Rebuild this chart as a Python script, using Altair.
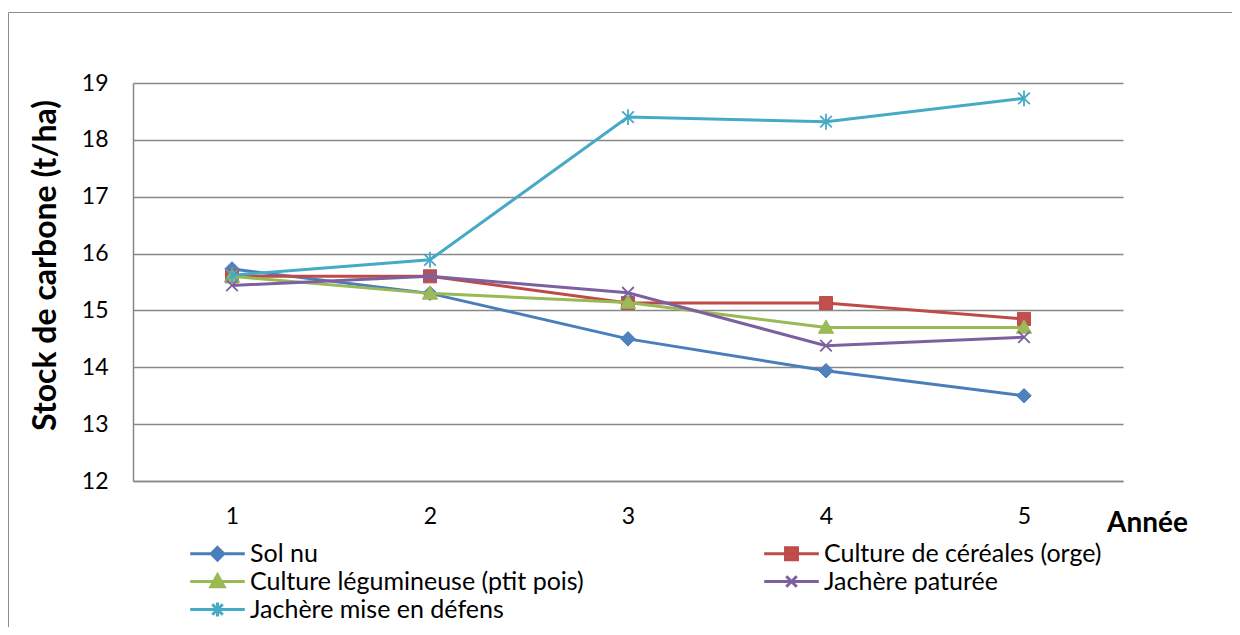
import altair as alt
import pandas as pd

# ---------------- data ----------------
years = [1, 2, 3, 4, 5]
series_names = [
    "Sol nu",
    "Culture de céréales (orge)",
    "Culture légumineuse (ptit pois)",
    "Jachère paturée",
    "Jachère mise en défens",
]
sol_nu = [15.73, 15.30, 14.50, 13.94, 13.50]
cereales = [15.60, 15.60, 15.13, 15.13, 14.85]
legumineuse = [15.60, 15.30, 15.14, 14.70, 14.70]
paturee = [15.44, 15.60, 15.31, 14.38, 14.53]
defens = [15.62, 15.89, 18.40, 18.32, 18.73]
y_ticks = [12, 13, 14, 15, 16, 17, 18, 19]
# legend fills column by column: this order gives the reference's rows
legend_order = [0, 2, 4, 1, 3]

# ---------------- styles ----------------
line_colors = ["#4A7EBB", "#BE4B48", "#98B954", "#7D60A0", "#46AAC5"]
marker_colors = ["#4F81BD", "#C0504D", "#9BBB59", "#8064A2", "#4BACC6"]
marker_paths = [
    "M0,-1L1,0L0,1L-1,0Z",
    "M-0.9,-0.9L0.9,-0.9L0.9,0.9L-0.9,0.9Z",
    "M0,-1.05L1.05,0.8L-1.05,0.8Z",
    "M-0.8,-0.8L0.8,0.8M-0.8,0.8L0.8,-0.8",
    "M-0.8,-0.8L0.8,0.8M-0.8,0.8L0.8,-0.8M0,-1.1L0,1.1",
]
marker_stroke = [1, 1, 1, 1.8, 1.8]
legend_line = "M-3.9,0L3.9,0"
legend_paths = [
    legend_line + "M0,-0.9L0.9,0L0,0.9L-0.9,0Z",
    legend_line + "M-0.85,-0.85L0.85,-0.85L0.85,0.85L-0.85,0.85Z",
    legend_line + "M0,-0.95L0.95,0.75L-0.95,0.75Z",
    legend_line + "M-0.75,-0.75L0.75,0.75M-0.75,0.75L0.75,-0.75",
    legend_line + "M-0.75,-0.75L0.75,0.75M-0.75,0.75L0.75,-0.75M0,-1L0,1",
]

FONT = "Lato"
GRID = "#888888"

rows = []
for name, vals in zip(series_names, [sol_nu, cereales, legumineuse, paturee, defens]):
    for yr, v in zip(years, vals):
        rows.append({"annee": yr, "stock": v, "serie": name})
df = pd.DataFrame(rows)

x_enc = alt.X(
    "annee:O",
    scale=alt.Scale(type="point", padding=0.5),
    axis=alt.Axis(
        title="Année",
        titleFont=FONT,
        titleFontSize=28,
        titleFontWeight="bold",
        titleColor="#000000",
        titleX=1014,
        titleY=50,
        titleAlign="center",
        titleBaseline="alphabetic",
        titleAngle=0,
        labelAngle=0,
        labelFont=FONT,
        labelFontSize=23,
        labelColor="#000000",
        labelPadding=24,
        ticks=False,
        tickSize=0,
        domainColor=GRID,
        domainWidth=1.5,
        grid=False,
    ),
)
y_enc = alt.Y(
    "stock:Q",
    scale=alt.Scale(domain=[12, 19], nice=False, zero=False),
    axis=alt.Axis(
        title="Stock de carbone (t/ha)",
        titleFont=FONT,
        titleFontSize=32,
        titleFontWeight="bold",
        titleColor="#000000",
        titleX=-78,
        titleY=182,
        titleAlign="center",
        titleBaseline="alphabetic",
        values=y_ticks,
        format="d",
        labelFont=FONT,
        labelFontSize=23,
        labelColor="#000000",
        labelPadding=25,
        ticks=False,
        tickSize=0,
        domainColor=GRID,
        domainWidth=1.5,
        grid=True,
        gridColor=GRID,
        gridWidth=1.5,
    ),
)

base = alt.Chart(df)
one = pd.DataFrame({"k": [0]})

frame_top = alt.Chart(one).mark_rule(stroke="#8C8C8C", strokeWidth=1).encode(
    x=alt.value(-124.5), x2=alt.value(1100), y=alt.value(-70.5)
)
frame_left = alt.Chart(one).mark_rule(stroke="#8C8C8C", strokeWidth=1).encode(
    x=alt.value(-124.5), y=alt.value(-70.5), y2=alt.value(545)
)

series_layers = []
for name, path, sw, fc, lc in zip(
    series_names, marker_paths, marker_stroke, marker_colors, line_colors
):
    sub = base.transform_filter(alt.datum.serie == name)
    series_layers.append(
        sub.mark_line(strokeWidth=3, stroke=lc).encode(x=x_enc, y=y_enc)
    )
    series_layers.append(
        sub.mark_point(
            shape=path, filled=True, size=210, strokeWidth=sw, opacity=1,
            fill=fc, stroke=lc,
        ).encode(x=x_enc, y=y_enc)
    )

leg_domain = [series_names[i] for i in legend_order]
leg_fill = [marker_colors[i] for i in legend_order]
leg_stroke = [line_colors[i] for i in legend_order]
leg_shapes = [legend_paths[i] for i in legend_order]

leg = alt.Legend(
    title=None,
    orient="none",
    legendX=72,
    legendY=458,
    padding=0,
    columns=2,
    columnPadding=174,
    rowPadding=1,
    labelFont=FONT,
    labelFontSize=25,
    labelColor="#000000",
    labelOffset=20,
    labelLimit=600,
    symbolSize=196,
    symbolStrokeWidth=3,
)

# legend-only layer: its points are placed off-canvas, only its legend is shown
legend_layer = base.mark_point(filled=True, size=196, strokeWidth=3, opacity=1).encode(
    x=alt.value(-3000),
    y=alt.value(-3000),
    fill=alt.Fill("serie:N", scale=alt.Scale(domain=leg_domain, range=leg_fill), legend=leg),
    stroke=alt.Stroke("serie:N", scale=alt.Scale(domain=leg_domain, range=leg_stroke), legend=leg),
    shape=alt.Shape(
        "serie:N", scale=alt.Scale(domain=leg_domain, range=leg_shapes), legend=leg
    ),
)

chart = (
    alt.layer(frame_top, frame_left, *series_layers, legend_layer)
    .properties(
        width=990,
        height=398,
        autosize=alt.AutoSizeParams(type="none"),
        padding={"left": 125, "top": 75, "right": 109, "bottom": 146},
        background="#FFFFFF",
    )
    .configure(font=FONT)
    .configure_view(strokeWidth=0)
)

chart.save("out.html", embed_options={"renderer": "svg", "actions": False})
